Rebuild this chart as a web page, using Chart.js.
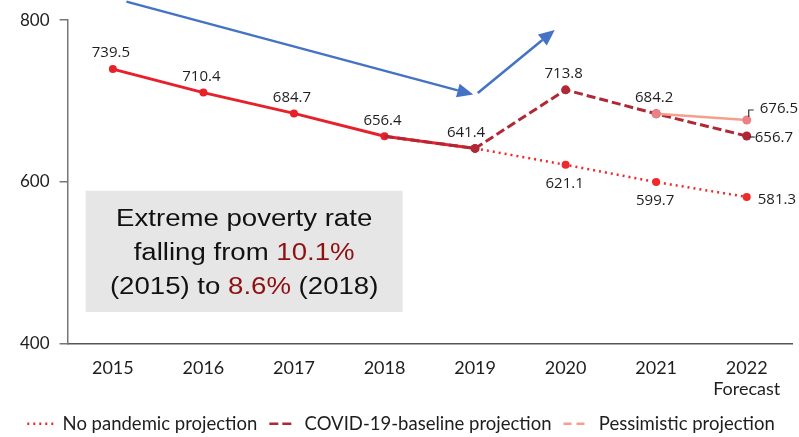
<!DOCTYPE html>
<html>
<head>
<meta charset="utf-8">
<script src="https://cdn.jsdelivr.net/npm/chart.js@4/dist/chart.umd.min.js"></script>
<style>
  html, body { margin: 0; padding: 0; background: #fff; }
  #wrap { width: 799px; height: 437px; }
</style>
</head>
<body>
<div id="wrap"><canvas id="canvas" width="799" height="437"></canvas></div>
<script>
// Годы и значения (млн человек)
const years = ['2015', '2016', '2017', '2018', '2019', '2020', '2021', ['2022', 'Forecast']];
const actual = [739.5, 710.4, 684.7, 656.4, 641.4, null, null, null];
const noPandemic = [null, null, null, null, 641.4, 621.1, 599.7, 581.3];
const covidBaseline = [null, null, null, 656.4, 641.4, 713.8, 684.2, 656.7];
const pessimistic = [null, null, null, null, null, null, 684.2, 676.5];
const yTicks = [400, 600, 800];

// Текст в сером блоке: [фрагмент, выделен ли цветом]
const noteLines = [
    [['Extreme poverty rate', false]],
    [['falling from ', false], ['10.1%', true]],
    [['(2015) to ', false], ['8.6%', true], [' (2018)', false]]
];

const labelFont = '15px "Open Sans"';
const textColor = '#1e1e1e';

// Подписи значений у точек
const valueLabels = {
    id: 'valueLabels',
    afterDatasetsDraw(chart) {
        const ctx = chart.ctx;
        ctx.save();
        ctx.font = labelFont;
        ctx.fillStyle = textColor;
        ctx.textBaseline = 'middle';
        chart.data.datasets.forEach((ds, i) => {
            const meta = chart.getDatasetMeta(i);
            ds.data.forEach((v, j) => {
                const pos = ds.labelPos && ds.labelPos[j];
                if (v == null || !pos) return;
                const pt = meta.data[j];
                const text = v.toFixed(1);
                if (pos === 'top') {
                    ctx.textAlign = 'center';
                    ctx.fillText(text, pt.x - 2, pt.y - 16);
                } else if (pos === 'topLeft') {
                    ctx.textAlign = 'center';
                    ctx.fillText(text, pt.x - 9, pt.y - 16);
                } else if (pos === 'below') {
                    ctx.textAlign = 'center';
                    ctx.fillText(text, pt.x - 1, pt.y + 19);
                } else if (pos === 'right') {
                    ctx.textAlign = 'left';
                    ctx.fillText(text, pt.x + 11, pt.y + 3);
                } else if (pos === 'rightTick') {
                    ctx.strokeStyle = '#333';
                    ctx.lineWidth = 1.2;
                    ctx.beginPath();
                    ctx.moveTo(pt.x + 3, pt.y + 1);
                    ctx.lineTo(pt.x + 8, pt.y + 1);
                    ctx.stroke();
                    ctx.textAlign = 'left';
                    ctx.fillText(text, pt.x + 8, pt.y + 2);
                } else if (pos === 'rightLeader') {
                    ctx.strokeStyle = '#333';
                    ctx.lineWidth = 1.2;
                    ctx.beginPath();
                    ctx.moveTo(pt.x + 2, pt.y - 3);
                    ctx.lineTo(pt.x + 2, pt.y - 10);
                    ctx.lineTo(pt.x + 7, pt.y - 10);
                    ctx.stroke();
                    ctx.textAlign = 'left';
                    ctx.fillText(text, pt.x + 13, pt.y - 11);
                }
            });
        });
        ctx.restore();
    }
};

// Серый блок с пояснением и синие стрелки
const notes = {
    id: 'notes',
    afterDraw(chart) {
        const { ctx, scales: { x, y } } = chart;
        ctx.save();

        const left = x.getPixelForValue(-0.3);
        const right = x.getPixelForValue(3.2);
        const top = y.getPixelForValue(589);
        const bottom = y.getPixelForValue(439);
        ctx.fillStyle = '#e6e6e6';
        ctx.fillRect(left, top, right - left, bottom - top);

        // текст блока немного растянут по горизонтали
        const sx = 1.2;
        ctx.font = '23px "Liberation Sans", Arial, sans-serif';
        ctx.textBaseline = 'middle';
        ctx.textAlign = 'left';
        const cx = (left + right) / 2;
        noteLines.forEach((parts, k) => {
            const w = parts.reduce((s, p) => s + ctx.measureText(p[0]).width, 0) * sx;
            let xx = cx - w / 2;
            const yy = top + 29 + k * 34;
            parts.forEach(([t, hi]) => {
                ctx.save();
                ctx.translate(xx, yy);
                ctx.scale(sx, 1);
                ctx.fillStyle = hi ? '#8e1010' : '#111';
                ctx.fillText(t, 0, 0);
                ctx.restore();
                xx += ctx.measureText(t).width * sx;
            });
        });

        const arrow = (x0, y0, x1, y1) => {
            const ang = Math.atan2(y1 - y0, x1 - x0);
            const len = 16, half = 7;
            const bx = x1 - len * Math.cos(ang), by = y1 - len * Math.sin(ang);
            ctx.strokeStyle = '#4472c4';
            ctx.fillStyle = '#4472c4';
            ctx.lineWidth = 2.5;
            ctx.beginPath();
            ctx.moveTo(x0, y0);
            ctx.lineTo(bx, by);
            ctx.stroke();
            ctx.beginPath();
            ctx.moveTo(x1, y1);
            ctx.lineTo(bx + half * Math.sin(ang), by - half * Math.cos(ang));
            ctx.lineTo(bx - half * Math.sin(ang), by + half * Math.cos(ang));
            ctx.closePath();
            ctx.fill();
        };
        arrow(x.getPixelForValue(0.15), y.getPixelForValue(823),
              x.getPixelForValue(3.98), y.getPixelForValue(708));
        arrow(x.getPixelForValue(4.03), y.getPixelForValue(710),
              x.getPixelForValue(4.88), y.getPixelForValue(788));
        ctx.restore();
    }
};

// Легенда: короткие линии с тем же пунктиром, что у серий
function legendItems(chart) {
    return chart.data.datasets.map((ds, i) => ({
        text: ds.label,
        datasetIndex: i,
        fillStyle: 'rgba(0,0,0,0)',
        strokeStyle: ds.borderColor,
        fontColor: textColor,
        lineWidth: 2.5,
        lineDash: ds.legendDash || ds.borderDash || [],
        pointStyle: 'line',
        hidden: false
    })).filter(item => item.datasetIndex !== 0);
}

const ctx = document.getElementById('canvas').getContext('2d');
new Chart(ctx, {
    type: 'line',
    data: {
        labels: years,
        datasets: [{
            label: 'Actual',
            data: actual,
            borderColor: '#e8202a',
            backgroundColor: '#e8202a',
            borderWidth: 3,
            pointRadius: 4,
            pointBorderWidth: 0,
            order: 4,
            labelPos: ['top', 'top', 'top', 'top', 'topLeft']
        }, {
            label: 'No pandemic projection',
            data: noPandemic,
            borderColor: '#ee2a2a',
            backgroundColor: '#ee2a2a',
            borderWidth: 2.5,
            borderDash: [2, 4],
            pointRadius: 4,
            pointBorderWidth: 0,
            order: 3,
            labelPos: [null, null, null, null, null, 'below', 'below', 'right']
        }, {
            label: 'COVID-19-baseline projection',
            data: covidBaseline,
            borderColor: '#b02836',
            backgroundColor: '#b02836',
            borderWidth: 3,
            borderDash: [9, 4],
            pointRadius: c => c.dataIndex < 4 ? 0 : 4.5,
            pointBorderWidth: 0,
            order: 2,
            labelPos: [null, null, null, null, null, 'top', 'top', 'rightTick']
        }, {
            label: 'Pessimistic projection',
            data: pessimistic,
            borderColor: '#f4a08c',
            backgroundColor: '#ec8088',
            borderWidth: 2.5,
            legendDash: [8, 5],
            pointRadius: 4.5,
            pointBorderWidth: 0,
            order: 1,
            labelPos: [null, null, null, null, null, null, null, 'rightLeader']
        }]
    },
    options: {
        responsive: false,
        animation: false,
        devicePixelRatio: 1,
        layout: { padding: { left: 10, right: 7, top: 6, bottom: -6 } },
        scales: {
            x: {
                offset: true,
                grid: { display: false, drawTicks: false },
                border: { display: true, color: '#555', width: 1.5 },
                ticks: {
                    color: textColor,
                    font: { family: 'Lato', size: 18, lineHeight: 1.12 },
                    padding: 15,
                    maxRotation: 0
                },
                afterFit: scale => { scale.height = 59; }
            },
            y: {
                min: 400,
                max: 800,
                afterBuildTicks: scale => { scale.ticks = yTicks.map(v => ({ value: v })); },
                grid: { drawOnChartArea: false, drawTicks: true, tickLength: 8, color: '#777', lineWidth: 1.5 },
                border: { display: true, color: '#777', width: 1.5 },
                ticks: {
                    color: textColor,
                    font: { family: 'Lato', size: 17 },
                    padding: 10
                }
            }
        },
        plugins: {
            tooltip: { enabled: false },
            legend: {
                position: 'bottom',
                labels: {
                    usePointStyle: true,
                    pointStyle: 'line',
                    pointStyleWidth: 26,
                    color: textColor,
                    font: { family: 'Lato', size: 18.5 },
                    padding: 12,
                    generateLabels: legendItems
                }
            }
        }
    },
    plugins: [valueLabels, notes]
});
</script>
</body>
</html>
